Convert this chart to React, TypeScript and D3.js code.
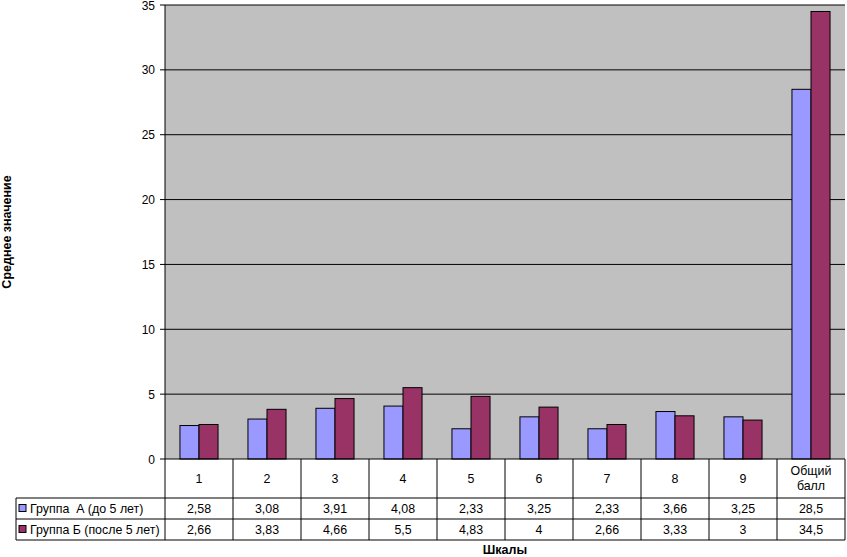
import React from "react";
import * as d3 from "d3";

const categories = ["1", "2", "3", "4", "5", "6", "7", "8", "9", "Общий\nбалл"];
const seriesA = [2.58, 3.08, 3.91, 4.08, 2.33, 3.25, 2.33, 3.66, 3.25, 28.5];
const seriesB = [2.66, 3.83, 4.66, 5.5, 4.83, 4, 2.66, 3.33, 3, 34.5];
const seriesNames = ["Группа  А (до 5 лет)", "Группа Б (после 5 лет)"];
const yTicks = [0, 5, 10, 15, 20, 25, 30, 35];
const fmt = (v: number) => String(v).replace(".", ",");

export default function App() {
  const W = 847, H = 557;
  const left = 165, right = 845, top = 5, bottom = 459;
  const colors = ["#9999FF", "#993366"];
  const x = d3.scaleBand<string>().domain(categories).range([left, right]).paddingInner(0).paddingOuter(0);
  const y = d3.scaleLinear().domain([0, 35]).range([bottom, top]);
  const bw = x.bandwidth();
  const barW = bw * 0.28;
  const row0 = bottom, row1 = 498, row2 = 519, row3 = 540;
  const legendLeft = 16;
  const series = [seriesA, seriesB];
  const font = "'Liberation Sans', Arial, sans-serif";
  const fs = 12.4;
  return (
    <svg width={W} height={H} style={{ position: "absolute", left: 0, top: 0, fontFamily: font }}>
      <rect x={0} y={0} width={W} height={H} fill="#fff" />
      <rect x={left} y={top} width={right - left} height={bottom - top} fill="#C0C0C0" />
      {yTicks.map((t) => (
        <g key={t}>
          {t > 0 && <line x1={left} x2={right} y1={y(t)} y2={y(t)} stroke="#000" strokeWidth={1} />}
          <line x1={left - 5} x2={left} y1={y(t)} y2={y(t)} stroke="#000" />
          <text x={left - 10} y={y(t) + 4.5} fontSize={12} textAnchor="end" fill="#000">{t}</text>
        </g>
      ))}
      {categories.map((c, i) => {
        const x0 = x(c)! + (bw - 2 * barW) / 2;
        return (
          <g key={c}>
            {series.map((s, k) => (
              <rect key={k} x={x0 + k * barW} y={y(s[i])} width={barW} height={y(0) - y(s[i])}
                fill={colors[k]} stroke="#000" strokeWidth={1} />
            ))}
          </g>
        );
      })}
      <line x1={left} x2={left} y1={top} y2={row3} stroke="#000" />
      <line x1={left} x2={right} y1={row0} y2={row0} stroke="#000" />
      <line x1={legendLeft} x2={right} y1={row1} y2={row1} stroke="#000" />
      <line x1={legendLeft} x2={right} y1={row2} y2={row2} stroke="#000" />
      <line x1={legendLeft} x2={right} y1={row3} y2={row3} stroke="#000" />
      <line x1={legendLeft} x2={legendLeft} y1={row1} y2={row3} stroke="#000" />
      {categories.map((c, i) => (
        <g key={"t" + i}>
          <line x1={x(c)! + bw} x2={x(c)! + bw} y1={row0} y2={row3} stroke="#000" />
          {c.split("\n").map((ln, j, arr) => (
            <text key={j} x={x(c)! + bw / 2} y={(row0 + row1) / 2 + 4 + (j - (arr.length - 1) / 2) * 15}
              fontSize={fs} textAnchor="middle">{ln}</text>
          ))}
          {series.map((s, k) => (
            <text key={k} x={x(c)! + bw / 2} y={(k === 0 ? (row1 + row2) / 2 : (row2 + row3) / 2) + 4.5}
              fontSize={fs} textAnchor="middle">{fmt(s[i])}</text>
          ))}
        </g>
      ))}
      {seriesNames.map((n, k) => {
        const cy = k === 0 ? (row1 + row2) / 2 : (row2 + row3) / 2;
        return (
          <g key={n}>
            <rect x={19} y={cy - 4} width={7} height={7} fill={colors[k]} stroke="#000" />
            <text x={30} y={cy + 4.5} fontSize={fs} style={{ whiteSpace: "pre" }}>{n}</text>
          </g>
        );
      })}
      <text x={(left + right) / 2} y={554} fontSize={12.5} fontWeight="bold" textAnchor="middle">Шкалы</text>
      <text transform={`translate(11, 232) rotate(-90)`} fontSize={12.5} fontWeight="bold" textAnchor="middle">Среднее значение</text>
    </svg>
  );
}
